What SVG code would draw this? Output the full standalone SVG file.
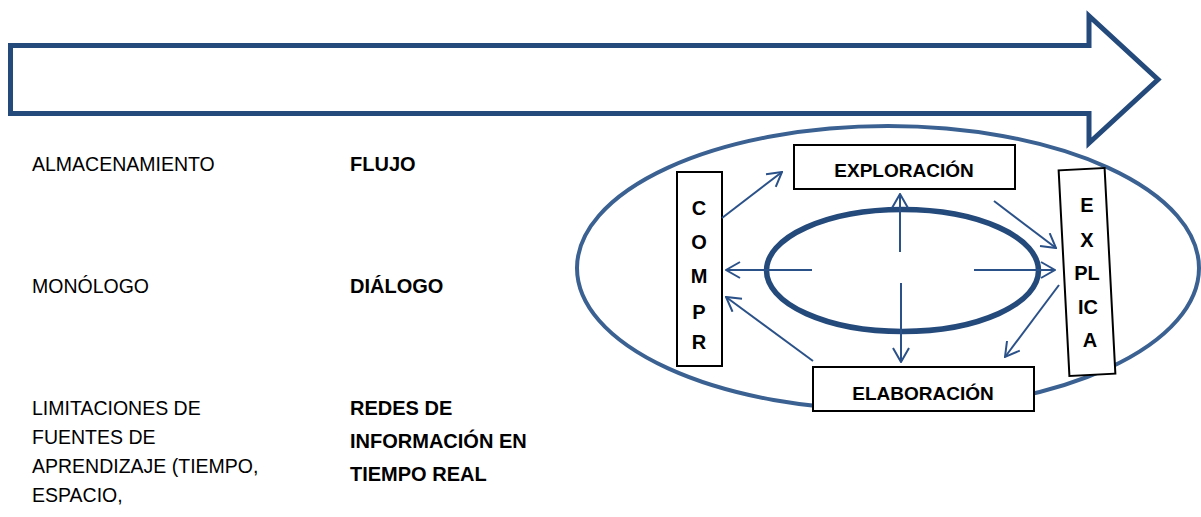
<svg xmlns="http://www.w3.org/2000/svg" width="1201" height="517" viewBox="0 0 1201 517">
<style>
.reg{font-family:"Liberation Sans",Arial,sans-serif;font-size:19.5px;fill:#000}
.bold{font-family:"Liberation Sans",Arial,sans-serif;font-size:19px;font-weight:bold;fill:#000}
.vl{font-size:20px}
.rl{font-size:20px}
.ctr{text-anchor:middle}
.box{fill:#fff;stroke:#000;stroke-width:2}
.conn{stroke:#2B5189;stroke-width:2;fill:none;marker-end:url(#ah)}
</style>
<defs>
<marker id="ah" markerUnits="userSpaceOnUse" markerWidth="16" markerHeight="18" viewBox="0 0 16 18" refX="15" refY="9" orient="auto">
<path d="M1,1 L15,9 L1,17" fill="none" stroke="#2B5189" stroke-width="2"/>
</marker>
</defs>
<rect width="1201" height="517" fill="#fff"/>
<g id="big-arrow">
<path d="M10.5 45.5 H1089 V16 L1158 79.5 L1089 143 V113.5 H10.5 Z" fill="#fff" stroke="#24497B" stroke-width="5" stroke-linejoin="miter"/>
</g>
<g id="labels-left">
<text class="reg" x="32" y="171">ALMACENAMIENTO</text>
<text class="reg" x="32" y="293">MONÓLOGO</text>
<text class="reg" x="32" y="415">LIMITACIONES DE</text>
<text class="reg" x="32" y="444">FUENTES DE</text>
<text class="reg" x="32" y="473">APRENDIZAJE (TIEMPO,</text>
<text class="reg" x="32" y="502">ESPACIO,</text>
</g>
<g id="labels-right">
<text class="bold rl" x="350" y="171">FLUJO</text>
<text class="bold rl" x="350" y="293">DIÁLOGO</text>
<text class="bold rl" x="350" y="415">REDES DE</text>
<text class="bold rl" x="350" y="448">INFORMACIÓN EN</text>
<text class="bold rl" x="350" y="481">TIEMPO REAL</text>
</g>
<g id="outer-ellipse">
<ellipse cx="888" cy="268" rx="311" ry="142" fill="none" stroke="#3A6191" stroke-width="4"/>
</g>
<g id="inner-ellipse">
<ellipse cx="902.5" cy="270.5" rx="136" ry="61" fill="none" stroke="#24497B" stroke-width="5.5"/>
</g>
<g id="exploracion">
<rect class="box" x="794" y="145" width="221" height="44"/>
<text class="bold ctr" x="904" y="177">EXPLORACIÓN</text>
</g>
<g id="elaboracion">
<rect class="box" x="813" y="367" width="221" height="44"/>
<text class="bold ctr" x="923" y="400">ELABORACIÓN</text>
</g>
<g id="compr">
<rect class="box" x="677" y="172" width="45" height="194"/>
<text class="bold vl ctr" x="699" y="215">C</text>
<text class="bold vl ctr" x="699" y="249">O</text>
<text class="bold vl ctr" x="699" y="283">M</text>
<text class="bold vl ctr" x="699" y="319">P</text>
<text class="bold vl ctr" x="699" y="349">R</text>
</g>
<g id="explica">
<rect class="box" x="1064" y="169" width="46" height="206" transform="rotate(-3 1087 272)"/>
<text class="bold vl ctr" x="1087" y="212">E</text>
<text class="bold vl ctr" x="1087" y="247">X</text>
<text class="bold vl ctr" x="1087" y="280">PL</text>
<text class="bold vl ctr" x="1088" y="314">IC</text>
<text class="bold vl ctr" x="1090" y="347">A</text>
</g>
<g id="connectors">
<line class="conn" x1="722" y1="218" x2="782" y2="172"/>
<line class="conn" x1="994" y1="201" x2="1056" y2="248"/>
<line class="conn" x1="1059" y1="285" x2="1005" y2="357"/>
<line class="conn" x1="813" y1="361" x2="726" y2="297"/>
<line class="conn" x1="900" y1="252" x2="900" y2="194"/>
<line class="conn" x1="901" y1="283" x2="901" y2="362"/>
<line class="conn" x1="812" y1="270" x2="726" y2="270"/>
<line class="conn" x1="974" y1="270" x2="1055" y2="270"/>
</g>
</svg>
